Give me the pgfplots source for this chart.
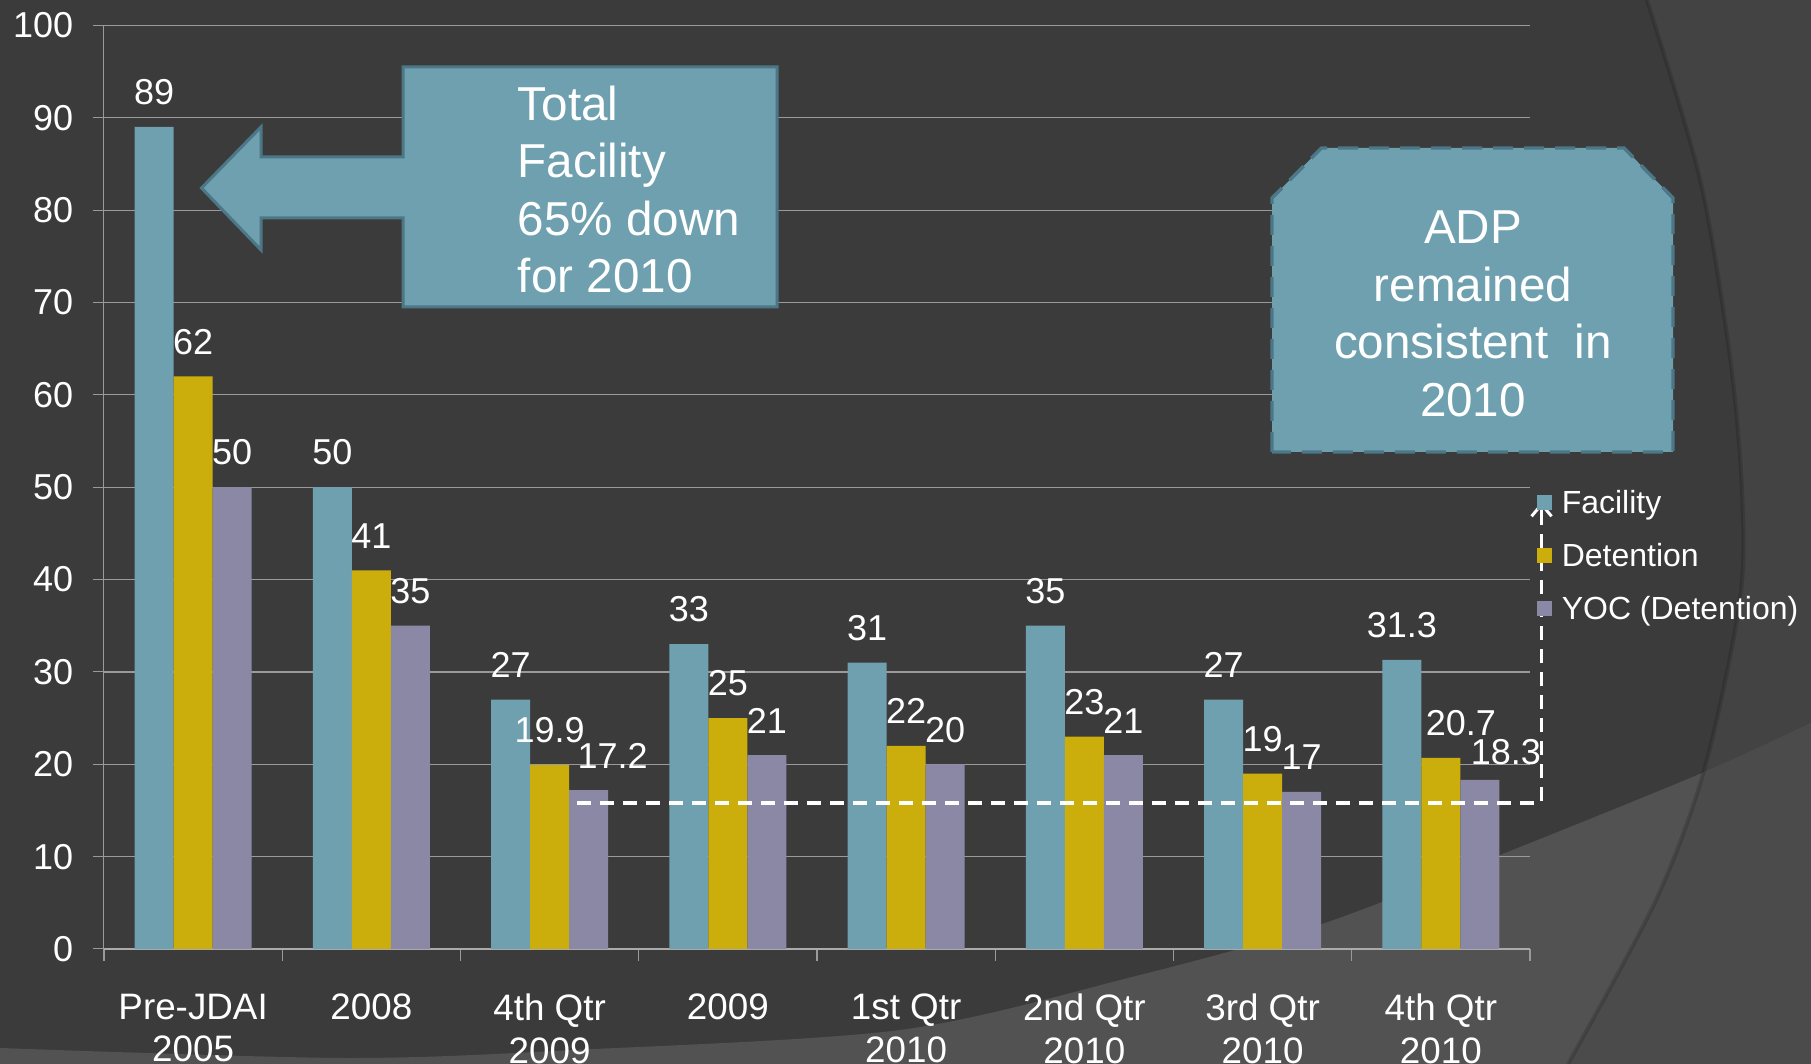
\documentclass[border=0pt]{standalone}
\usepackage{pgfplots}
\pgfplotsset{compat=1.18}
\usepackage{pgfplotstable}
\usepackage{fontspec}
\setmainfont{Liberation Sans}
\usetikzlibrary{arrows.meta}
\definecolor{bgdark}{HTML}{3B3B3B}
\definecolor{bgright}{HTML}{434343}
\definecolor{bglight}{HTML}{525252}
\definecolor{bglightr}{HTML}{4B4B4B}
\definecolor{facility}{HTML}{6FA0AF}
\definecolor{detention}{HTML}{CBAE0C}
\definecolor{yoc}{HTML}{8B88A6}
\definecolor{callfill}{HTML}{6EA0AF}
\definecolor{callborder}{HTML}{4B7787}
\definecolor{gridc}{HTML}{9A9A9A}
\definecolor{axisc}{HTML}{ABABAB}

\pgfplotstableread{
x y dx ys
0 89 0 17.3
1 50 0 17.3
2 27 0 17.3
3 33 0 17.3
4 31 0 17.3
5 35 0 17.3
6 27 0 17.3
7 31.3 0 17.3
}\facilitytab
\pgfplotstableread{
x y dx ys
0 62 0 17.3
1 41 0 17.3
2 19.9 0 17.3
3 25 0 17.3
4 22 0 17.3
5 23 0 17.3
6 19 0 17.3
7 20.7 10 17.3
}\detentiontab
\pgfplotstableread{
x y dx ys
0 50 0 17.3
1 35 0 17.3
2 17.2 12 17.3
3 21 0 17.3
4 20 0 17.3
5 21 0 17.3
6 17 0 17.3
7 18.3 13 13.8
}\yoctab

\begin{document}
\begin{tikzpicture}
\useasboundingbox (0,0) rectangle (905.5pt,532pt);
\fill[bgdark] (0,0) rectangle (905.5pt,532pt);
\begin{scope}
\clip (0,0) rectangle (905.5pt,532pt);
\fill[bgright] plot[smooth] coordinates {(823.5pt,532pt) (850pt,442.5pt) (865pt,353.5pt) (871pt,286.5pt) (870pt,232pt) (852.5pt,148.5pt) (828pt,82pt) (784pt,0pt)} -- (905.5pt,0pt) -- (905.5pt,532pt) -- cycle;
\fill[bglight] plot[smooth] coordinates {(0pt,8pt) (172pt,3pt) (287pt,7pt) (450pt,17pt) (566pt,43.5pt) (659.5pt,69.5pt) (752.5pt,105.5pt) (851pt,145.5pt) (905.5pt,170.5pt)} -- (905.5pt,0pt) -- (0pt,0pt) -- cycle;
\begin{scope}
\clip plot[smooth] coordinates {(0pt,8pt) (172pt,3pt) (287pt,7pt) (450pt,17pt) (566pt,43.5pt) (659.5pt,69.5pt) (752.5pt,105.5pt) (851pt,145.5pt) (905.5pt,170.5pt)} -- (905.5pt,0pt) -- (0pt,0pt) -- cycle;
\fill[bglightr] plot[smooth] coordinates {(823.5pt,532pt) (850pt,442.5pt) (865pt,353.5pt) (871pt,286.5pt) (870pt,232pt) (852.5pt,148.5pt) (828pt,82pt) (784pt,0pt)} -- (905.5pt,0pt) -- (905.5pt,532pt) -- cycle;
\end{scope}
\draw[black, opacity=0.15, line width=2pt] plot[smooth] coordinates {(823.5pt,532pt) (850pt,442.5pt) (865pt,353.5pt) (871pt,286.5pt) (870pt,232pt) (852.5pt,148.5pt) (828pt,82pt) (784pt,0pt)};
\end{scope}

\begin{axis}[
  at={(52pt,57.5pt)}, anchor=south west,
  scale only axis, width=713pt, height=461.8pt,
  xmin=-0.5, xmax=7.5, ymin=0, ymax=100,
  ybar=0pt, bar width=19.5pt,
  axis x line*=bottom, axis y line*=left,
  axis line style={-},
  x axis line style={axisc, line width=1.3pt},
  y axis line style={gridc, line width=0.5pt},
  ymajorgrids=true,
  major grid style={gridc, line width=0.6pt},
  ytick={0,10,...,100},
  xtick={0,...,7},
  xticklabels={{Pre-JDAI\\2005},{2008},{4th Qtr\\2009},{2009},{1st Qtr\\2010},{2nd Qtr\\2010},{3rd Qtr\\2010},{4th Qtr\\2010}},
  minor xtick={-0.5,0.5,...,7.5},
  tick align=outside,
  major tick length=5.5pt,
  minor tick length=6pt,
  major x tick style={draw=none},
  tick style={gridc, line width=0.5pt},
  minor x tick style={gridc, line width=0.6pt},
  /pgf/number format/assume math mode=true,
  xticklabel style={align=center, font=\fontsize{18.4}{21.4}\selectfont, text=white, anchor=north, inner sep=0pt, yshift=-16.7pt},
  yticklabel style={anchor=east, inner sep=0pt, xshift=-9.7pt, font=\fontsize{18}{21}\selectfont, text=white},
  clip=false,
  visualization depends on={\thisrow{dx} \as \dx},
  visualization depends on={\thisrow{ys} \as \ys},
  nodes near coords,
  every node near coord/.append style={anchor=center, inner sep=0pt, xshift=\dx pt, yshift=\ys pt, font=\fontsize{18}{21}\selectfont, text=white},
  legend cell align=left,
  legend image code/.code={\fill[#1] (0pt,-3.75pt) rectangle (7.5pt,3.75pt);},
  legend style={at={(1.0049,0.496)}, anchor=north west, draw=none, fill=none, inner sep=0pt, outer sep=0pt, row sep=15.1pt, font=\fontsize{16}{18}\selectfont, text=white, nodes={inner sep=0pt, text height=11.4pt, text depth=0pt}, /tikz/every odd column/.append style={column sep=4.9pt}},
]
\addplot[fill=facility, draw=none] table[x=x, y=y] {\facilitytab};
\addplot[fill=detention, draw=none] table[x=x, y=y] {\detentiontab};
\addplot[fill=yoc, draw=none] table[x=x, y=y] {\yoctab};
\legend{Facility, Detention, YOC (Detention)}
\draw[white, line width=1.6pt, dash pattern=on 7pt off 4.5pt] (axis cs:2.156,15.8) -- (axis cs:7.565,15.8) -- (axis cs:7.565,47.2);
\draw[white, line width=1.5pt, -{Straight Barb[length=6pt,width=10pt]}] (axis cs:7.565,46.2) -- (axis cs:7.565,48.4);
\end{axis}

% Callout 1: arrow box
\filldraw[fill=callfill, draw=callborder, line width=1.5pt, line join=miter]
  (201.5pt,453.5pt) -- (130.5pt,453.5pt) -- (130.5pt,468.5pt) -- (100.75pt,438pt) -- (130.5pt,407pt) -- (130.5pt,423pt) -- (201.5pt,423pt) -- (201.5pt,378.5pt) -- (388.5pt,378.5pt) -- (388.5pt,498.5pt) -- (201.5pt,498.5pt) -- cycle;
\node[anchor=west, align=left, text=white, inner sep=0pt, font=\fontsize{23.8}{28.8}\selectfont] at (258.75pt,437.25pt) {Total\\Facility\\65\% down\\for 2010};

% Callout 2: ADP box
\filldraw[fill=callfill, draw=callborder, line width=1.7pt, dash pattern=on 10pt off 5.5pt]
  (636pt,306pt) -- (636pt,433pt) -- (660.75pt,458pt) -- (812pt,458pt) -- (836.5pt,433pt) -- (836.5pt,306pt) -- cycle;
\node[align=center, text=white, inner sep=0pt, font=\fontsize{23.8}{28.8}\selectfont] at (736.5pt,375pt) {ADP\\remained\\consistent\ \ in\\2010};
\end{tikzpicture}
\end{document}
